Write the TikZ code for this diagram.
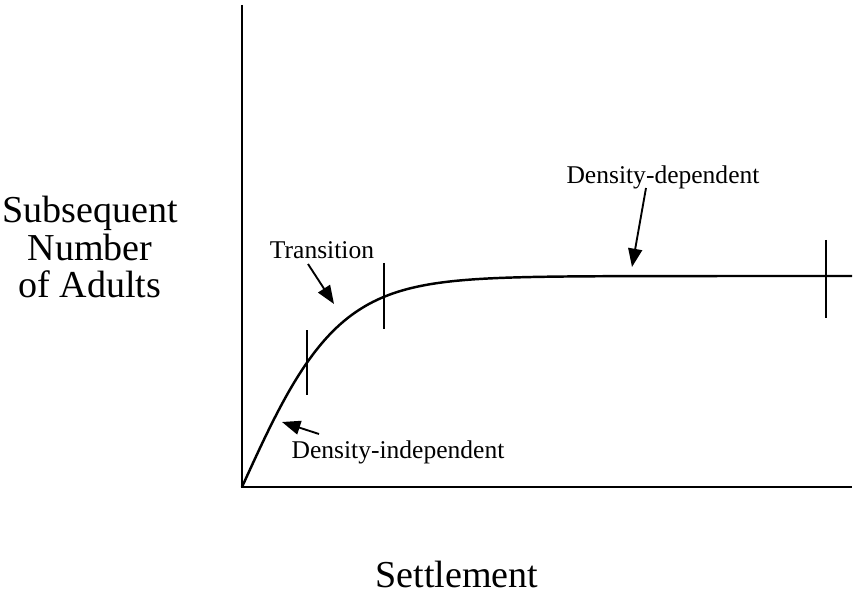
\documentclass[tikz,border=0pt]{standalone}
\usepackage{fontspec}
\setmainfont{Liberation Serif}
\usetikzlibrary{arrows.meta}

\begin{document}
\begin{tikzpicture}[x=0.03cm, y=-0.03cm,
    axis/.style={line width=1.8pt},
    tickmark/.style={line width=1.5pt},
    pointer/.style={line width=1.6pt, -{Triangle[length=0.55cm, width=0.42cm]}},
    biglabel/.style={font=\fontsize{32.5}{32.4}\selectfont, align=center},
    smalllabel/.style={font=\fontsize{21.8}{24}\selectfont}]
    \useasboundingbox (0,0) rectangle (856,594);

    % Axes
    \coordinate (origin) at (242,487);
    \coordinate (ytop) at (242,5);
    \coordinate (xend) at (852,487);
    \draw[axis] (ytop) -- (origin) -- (xend);

    % Curve
    \draw[line width=2.1pt, domain=242:852, samples=120, smooth]
        plot (\x, {487 - 211*tanh((\x-242)/96)});

    % Ticks
    \coordinate (t1a) at (307,330); \coordinate (t1b) at (307,395);
    \coordinate (t2a) at (384,263); \coordinate (t2b) at (384,329);
    \coordinate (t3a) at (826,240); \coordinate (t3b) at (826,318);
    \draw[tickmark] (t1a) -- (t1b);
    \draw[tickmark] (t2a) -- (t2b);
    \draw[tickmark] (t3a) -- (t3b);

    % Labels
    \node[biglabel] (ylab) at (90,247) {Subsequent\\Number\\of Adults};
    \node[biglabel] (xlab) at (457,574) {Settlement};
    \node[smalllabel] (trans) at (322,250) {Transition};
    \node[smalllabel] (indep) at (398,452) {Density-independent};
    \node[smalllabel] (dep) at (663,177) {Density-dependent};

    % Arrows
    \coordinate (transtail) at (308,264);
    \coordinate (transtip) at (334,304);
    \coordinate (indeptail) at (319,434);
    \coordinate (indeptip) at (282,422);
    \coordinate (deptail) at (646,188);
    \coordinate (deptip) at (632,267);
    \draw[pointer] (transtail) -- (transtip);
    \draw[pointer] (indeptail) -- (indeptip);
    \draw[pointer] (deptail) -- (deptip);
\end{tikzpicture}
\end{document}
